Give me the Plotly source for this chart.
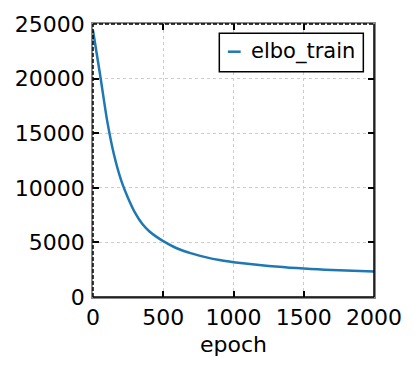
import plotly.graph_objects as go

# data
epochs = [0, 50, 100, 150, 200, 250, 300, 350, 400, 450, 500, 600, 700, 800, 900, 1000,
          1100, 1200, 1300, 1400, 1500, 1600, 1700, 1800, 1900, 2000]
elbo_train = [24400, 20400, 16200, 13000, 10700, 9050, 7700, 6700, 6020, 5530, 5120, 4440, 3990, 3650, 3380, 3190,
              3040, 2900, 2790, 2690, 2605, 2530, 2470, 2420, 2378, 2340]

x_ticks = [0, 500, 1000, 1500, 2000]
y_ticks = [0, 5000, 10000, 15000, 20000, 25000]
series_name = "elbo_train"
x_label = "epoch"

FONT = "DejaVu Sans"
BLUE = "#1f77b4"

fig = go.Figure()
fig.add_trace(go.Scatter(
    x=epochs, y=elbo_train, mode="lines", name=series_name,
    line=dict(color=BLUE, width=2.5, shape="spline", smoothing=0.6),
    showlegend=False,
))

axis_common = dict(
    showgrid=True, gridcolor="#cccccc", gridwidth=1, griddash="3px,3px",
    zeroline=False, showline=True, linecolor="#888888", linewidth=1.5,
    mirror="ticks", ticks="inside", ticklen=6, tickwidth=1.5, tickcolor="black",
    tickfont=dict(family=FONT, size=22, color="black"), automargin=False,
)

fig.update_xaxes(range=[0, 2000], tickvals=x_ticks, ticktext=[str(v) for v in x_ticks],
                 title=dict(text=x_label, font=dict(family=FONT, size=22, color="black"), standoff=7),
                 ticklabelstandoff=0, **axis_common)
fig.update_yaxes(range=[0, 25000], tickvals=y_ticks, ticktext=[str(v) for v in y_ticks],
                 ticklabelstandoff=2, **axis_common)

shapes = [
    dict(type="line", xref="paper", yref="paper", x0=0, x1=1, y0=0, y1=0, line=dict(color="black", width=1.5)),
    dict(type="line", xref="paper", yref="paper", x0=1, x1=1, y0=0, y1=1, line=dict(color="black", width=1.5)),
    dict(type="line", xref="paper", yref="paper", x0=0, x1=1, y0=1, y1=1, line=dict(color="black", width=1.5, dash="4px,2px")),
    dict(type="line", xref="paper", yref="paper", x0=0, x1=0, y0=0, y1=1, line=dict(color="black", width=1.5, dash="4px,2px")),
    # legend box
    dict(type="rect", xref="paper", yref="paper", x0=0.4495, x1=0.962, y0=0.825, y1=0.966,
         line=dict(color="black", width=1.5), fillcolor="white"),
    dict(type="line", xref="paper", yref="paper", x0=0.480, x1=0.5256, y0=0.8985, y1=0.8985,
         line=dict(color=BLUE, width=2.5)),
]
for s in shapes:
    s["layer"] = "above"

fig.update_layout(
    width=407, height=362,
    margin=dict(l=85, r=41, t=16, b=73),
    paper_bgcolor="white", plot_bgcolor="white",
    font=dict(family=FONT, size=22, color="black"),
    shapes=shapes,
    annotations=[dict(xref="paper", yref="paper", x=0.555, y=0.8985, text=series_name,
                      showarrow=False, xanchor="left", yanchor="middle",
                      font=dict(family=FONT, size=21, color="black"))],
    showlegend=False,
)

fig.write_html("out.html")
